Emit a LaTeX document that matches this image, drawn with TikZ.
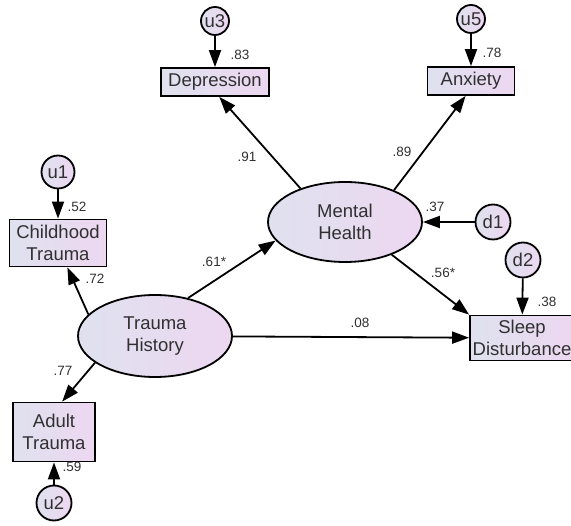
\documentclass[tikz,border=0pt]{standalone}
\usepackage{fontspec}
\setmainfont{Liberation Sans}
\usetikzlibrary{arrows.meta,shapes.geometric}

\definecolor{boxl}{HTML}{DFE1EF}
\definecolor{boxr}{HTML}{EDD7F1}
\definecolor{txt}{HTML}{303030}

\begin{document}
\begin{tikzpicture}[x=1pt,y=-1pt,
    base/.style={draw=black,line width=1.8pt,left color=boxl,right color=boxr,text=txt,align=center,inner sep=0pt,font=\fontsize{18.5}{21.5}\selectfont},
    obs/.style={base,rectangle},
    lat/.style={base,ellipse,minimum width=154pt,minimum height=82pt},
    err/.style={base,circle},
    coef/.style={text=txt,inner sep=0pt,font=\fontsize{13.5}{16}\selectfont},
    reg/.style={draw,line width=1.8pt,-{Triangle[length=17pt,width=12pt]}}]
    \useasboundingbox (0,0) rectangle (571,526);

    % exogenous side
    \node[err,minimum size=33pt] (u1) at (58,172) {u1};
    \node[obs,minimum width=97pt,minimum height=47pt] (ct) at (58,243) {Childhood\\Trauma};
    \node[lat] (th) at (155,336) {Trauma\\History};
    \node[obs,minimum width=82pt,minimum height=59pt] (at) at (54,432) {Adult\\Trauma};
    \node[err,minimum size=35pt] (u2) at (54,503) {u2};

    % mediator and outcomes
    \node[lat,minimum height=80pt] (mh) at (345,222) {Mental\\Health};
    \node[obs,minimum width=108pt,minimum height=28pt] (dep) at (215,82) {Depression};
    \node[err,minimum size=28pt] (u3) at (215,21) {u3};
    \node[obs,minimum width=87pt,minimum height=28pt] (anx) at (471,81) {Anxiety};
    \node[err,minimum size=28pt] (u5) at (471,19) {u5};
    \node[err,minimum size=35pt] (d1) at (493,222) {d1};
    \node[err,minimum size=35pt] (d2) at (523,260) {d2};
    \node[obs,minimum width=104pt,minimum height=45pt] (sd) at (522,338) {Sleep\\Disturbance};

    \path
    (u1) edge[reg] (ct)
    (u2) edge[reg] (at)
    (u3) edge[reg] (dep)
    (u5) edge[reg] (anx)
    (d1) edge[reg] (mh)
    (d2) edge[reg] (sd)
    (th.162) edge[reg] (ct.-69)
    (th.204) edge[reg] (at.75)
    (th.49) edge[reg] (mh.195)
    (th) edge[reg] (sd)
    (mh.143) edge[reg] (dep.-74)
    (mh.33) edge[reg] (anx.-110)
    (mh.-35) edge[reg] (sd.north west);

    % coefficients
    \node[coef] (c52) at (77,207) {.52};
    \node[coef] (c72) at (95,279) {.72};
    \node[coef] (c77) at (63,371) {.77};
    \node[coef] (c59) at (72,467) {.59};
    \node[coef] (c83) at (240,55) {.83};
    \node[coef] (c78) at (492,53) {.78};
    \node[coef] (c91) at (247,157) {.91};
    \node[coef] (c89) at (402,152) {.89};
    \node[coef] (c37) at (435,207) {.37};
    \node[coef] (c38) at (547,302) {.38};
    \node[coef] (c61) at (214,262) {.61*};
    \node[coef] (c56) at (443,273) {.56*};
    \node[coef] (c08) at (360,323) {.08};
\end{tikzpicture}
\end{document}
